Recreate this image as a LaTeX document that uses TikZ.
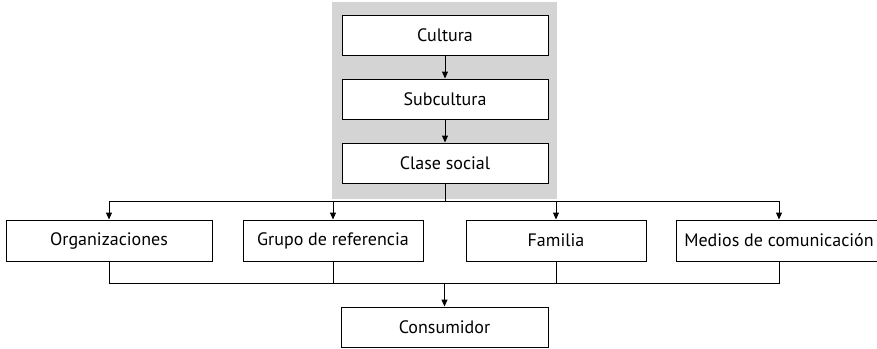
\documentclass[tikz,border=0pt]{standalone}
\usepackage{fontspec}
\setmainfont{PT Sans}
\usetikzlibrary{arrows.meta}
\definecolor{bggray}{RGB}{212,212,213}
\tikzset{
  box/.style={draw=black, line width=1pt, fill=white, minimum height=40pt, inner sep=0pt, font=\fontsize{18}{21}\selectfont},
  conn/.style={line width=1pt},
  arr/.style={conn, -{Triangle[width=6pt,length=7pt]}}
}
\begin{document}
\begin{tikzpicture}[x=1pt,y=-1pt]
\useasboundingbox (0,0) rectangle (877,348);
\fill[bggray] (332,2) rectangle (557,199);
\node[box, minimum width=206pt] (cultura) at (445,35) {Cultura};
\node[box, minimum width=206pt] (sub) at (445,99) {Subcultura};
\node[box, minimum width=206pt] (clase) at (445,163) {Clase social};
\node[box, minimum width=206pt, minimum height=41pt] (org) at (109,240.5) {Organizaciones};
\node[box, minimum width=180pt, minimum height=41pt] (grupo) at (333,240.5) {Grupo de referencia};
\node[box, minimum width=180pt, minimum height=41pt] (familia) at (556,240.5) {Familia};
\node[box, minimum width=206pt, minimum height=41pt] (medios) at (779,240.5) {Medios de comunicación};
\node[box, minimum width=207pt] (consumidor) at (444.5,327) {Consumidor};
\coordinate (split) at (445,201);
\coordinate (collect) at (444.5,283);
\draw[arr] (cultura) -- (sub);
\draw[arr] (sub) -- (clase);
\draw[conn] (clase.south) -- (split);
\draw[arr] (split) -| (org.north);
\draw[arr] (split) -| (grupo.north);
\draw[arr] (split) -| (familia.north);
\draw[arr] (split) -| (medios.north);
\draw[conn] (org.south) -- (org.south |- collect) -- (medios.south |- collect) -- (medios.south);
\draw[conn] (grupo.south) -- (grupo.south |- collect);
\draw[conn] (familia.south) -- (familia.south |- collect);
\draw[arr] (collect) -- (consumidor.north);
\end{tikzpicture}
\end{document}
